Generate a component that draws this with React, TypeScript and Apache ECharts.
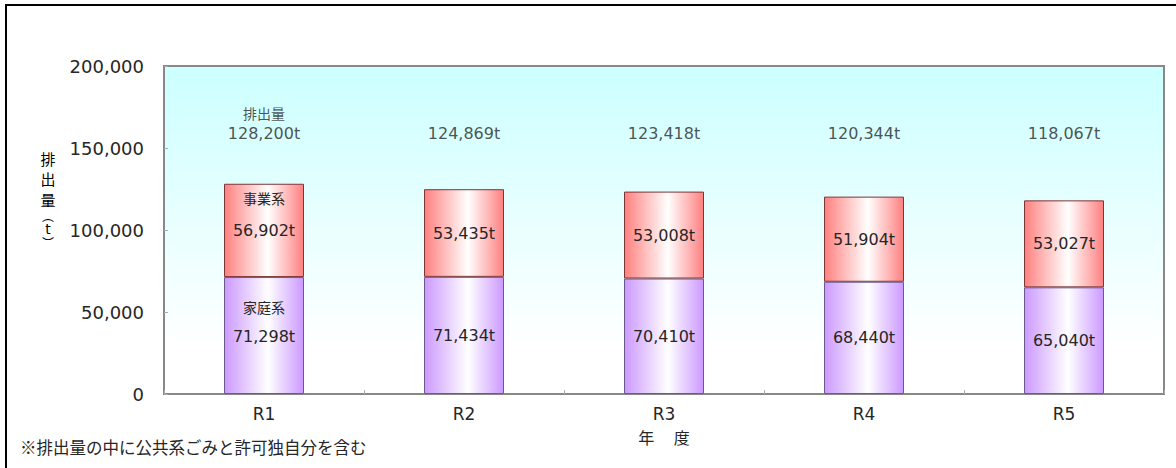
import React, { useEffect, useRef } from "react";
import * as echarts from "echarts";

const categories = ["R1", "R2", "R3", "R4", "R5"];
const household = [71298, 71434, 70410, 68440, 65040];
const business = [56902, 53435, 53008, 51904, 53027];
const totals = household.map((v, i) => v + business[i]);
const yMin = 0;
const yMax = 200000;
const yInterval = 50000;
const TOTAL_LABEL_Y = 159000;

const HOUSEHOLD_NAME = "家庭系";
const BUSINESS_NAME = "事業系";
const TOTAL_NAME = "排出量";
const X_NAME = "年　 度";
const Y_TITLE = ["排", "出", "量"];
const NOTE = "※排出量の中に公共系ごみと許可独自分を含む";

const NUM_FONT = "DejaVu Sans";
const JP_FONT = "Noto Sans CJK JP";

const fmt = (v: number) => v.toLocaleString("en-US");

export default function App() {
  const ref = useRef<HTMLDivElement>(null);
  useEffect(() => {
    if (!ref.current) return;
    const chart = echarts.init(ref.current, null, { renderer: "svg" });

    const grad = (edge: string) =>
      new echarts.graphic.LinearGradient(0, 0, 1, 0, [
        { offset: 0, color: edge },
        { offset: 0.55, color: "#ffffff" },
        { offset: 1, color: edge },
      ]);

    const richNum = { fontFamily: NUM_FONT, fontSize: 16, color: "#262626" };
    const richJp = { fontFamily: JP_FONT, fontSize: 14, color: "#262626" };

    const householdData = household.map((v, i) =>
      i === 0
        ? {
            value: v,
            label: {
              formatter: `{c|${HOUSEHOLD_NAME}}\n{v|${fmt(v)}t}`,
              offset: [0, -14],
              rich: { c: { ...richJp, lineHeight: 29 }, v: { ...richNum, lineHeight: 29 } },
            },
          }
        : v
    );
    const businessData = business.map((v, i) =>
      i === 0
        ? {
            value: v,
            label: {
              formatter: `{c|${BUSINESS_NAME}}\n{v|${fmt(v)}t}`,
              offset: [0, -16],
              rich: { c: { ...richJp, lineHeight: 33 }, v: { ...richNum, lineHeight: 33 } },
            },
          }
        : v
    );
    const totalData = totals.map((t, i) =>
      i === 0
        ? {
            value: TOTAL_LABEL_Y,
            label: {
              formatter: `{c|${TOTAL_NAME}}\n{v|${fmt(t)}t}`,
              offset: [0, -10],
              rich: { c: { ...richJp, lineHeight: 21 }, v: { ...richNum, lineHeight: 21 } },
            },
          }
        : {
            value: TOTAL_LABEL_Y,
            label: { formatter: `${fmt(t)}t` },
          }
    );

    const yTitleText =
      Y_TITLE.map((c) => `{a|${c}}`).join("\n") + "\n{p|︵}\n{t|t}\n{p|︶}";

    chart.setOption({
      animation: false,
      backgroundColor: "#ffffff",
      grid: {
        left: 164,
        right: 12,
        top: 66,
        bottom: 74,
        show: true,
        backgroundColor: new echarts.graphic.LinearGradient(0, 0, 0, 1, [
          { offset: 0, color: "#ccffff" },
          { offset: 0.85, color: "#ffffff" },
          { offset: 1, color: "#ffffff" },
        ]),
        borderColor: "#888888",
        borderWidth: 2,
      },
      xAxis: {
        type: "category",
        data: categories,
        name: X_NAME,
        nameLocation: "middle",
        nameGap: 35,
        nameTextStyle: { fontFamily: JP_FONT, fontSize: 16, color: "#262626" },
        axisLine: { show: true, lineStyle: { color: "#888888", width: 2 } },
        axisTick: { show: true, inside: true, length: 4, lineStyle: { color: "#aaaaaa" } },
        axisLabel: { margin: 11, fontFamily: NUM_FONT, fontSize: 17, color: "#262626" },
      },
      yAxis: {
        type: "value",
        min: yMin,
        max: yMax,
        interval: yInterval,
        axisLine: { show: true, lineStyle: { color: "#888888", width: 2 } },
        axisTick: { show: true, inside: true, length: 4, lineStyle: { color: "#aaaaaa" } },
        splitLine: { show: false },
        axisLabel: {
          margin: 20,
          fontFamily: NUM_FONT,
          fontSize: 18,
          color: "#262626",
          formatter: (v: number) => fmt(v),
        },
      },
      series: [
        {
          name: HOUSEHOLD_NAME,
          type: "bar",
          stack: "total",
          barWidth: 80,
          data: householdData,
          itemStyle: { color: grad("#cc99ff"), borderColor: "#6a5a8a", borderWidth: 1 },
          label: {
            show: true,
            position: "inside",
            fontFamily: NUM_FONT,
            fontSize: 16,
            color: "#262626",
            formatter: (p: any) => `${fmt(p.value)}t`,
          },
        },
        {
          name: BUSINESS_NAME,
          type: "bar",
          stack: "total",
          barWidth: 80,
          data: businessData,
          itemStyle: { color: grad("#ff8080"), borderColor: "#7a3535", borderWidth: 1 },
          label: {
            show: true,
            position: "inside",
            fontFamily: NUM_FONT,
            fontSize: 16,
            color: "#262626",
            formatter: (p: any) => `${fmt(p.value)}t`,
          },
        },
        {
          name: TOTAL_NAME,
          type: "scatter",
          data: totalData,
          symbolSize: 1,
          itemStyle: { color: "rgba(0,0,0,0)" },
          label: {
            show: true,
            position: "inside",
            fontFamily: NUM_FONT,
            fontSize: 16,
            color: "#262626",
          },
          z: 5,
        },
      ],
      graphic: [
        {
          type: "polyline",
          shape: { points: [[6, 480], [6, 5], [1190, 5]] },
          style: { stroke: "#000", lineWidth: 2, fill: null },
          silent: true,
        },
        {
          type: "text",
          x: 48,
          y: 148,
          style: {
            text: yTitleText,
            align: "center",
            verticalAlign: "top",
            rich: {
              a: { fontFamily: JP_FONT, fontSize: 15, lineHeight: 20.5, color: "#262626", align: "center" },
              p: { fontFamily: JP_FONT, fontSize: 12, lineHeight: 12, color: "#262626", align: "center" },
              t: { fontFamily: NUM_FONT, fontSize: 14, lineHeight: 15, color: "#262626", align: "center" },
            },
          },
        },
        {
          type: "text",
          x: 20,
          y: 447,
          style: {
            text: NOTE,
            fontFamily: JP_FONT,
            fontSize: 16.5,
            fill: "#262626",
            align: "left",
            verticalAlign: "middle",
          },
        },
      ],
    });
    return () => chart.dispose();
  }, []);
  return (
    <div
      ref={ref}
      style={{ position: "fixed", left: 0, top: 0, width: 1176, height: 468 }}
    />
  );
}
